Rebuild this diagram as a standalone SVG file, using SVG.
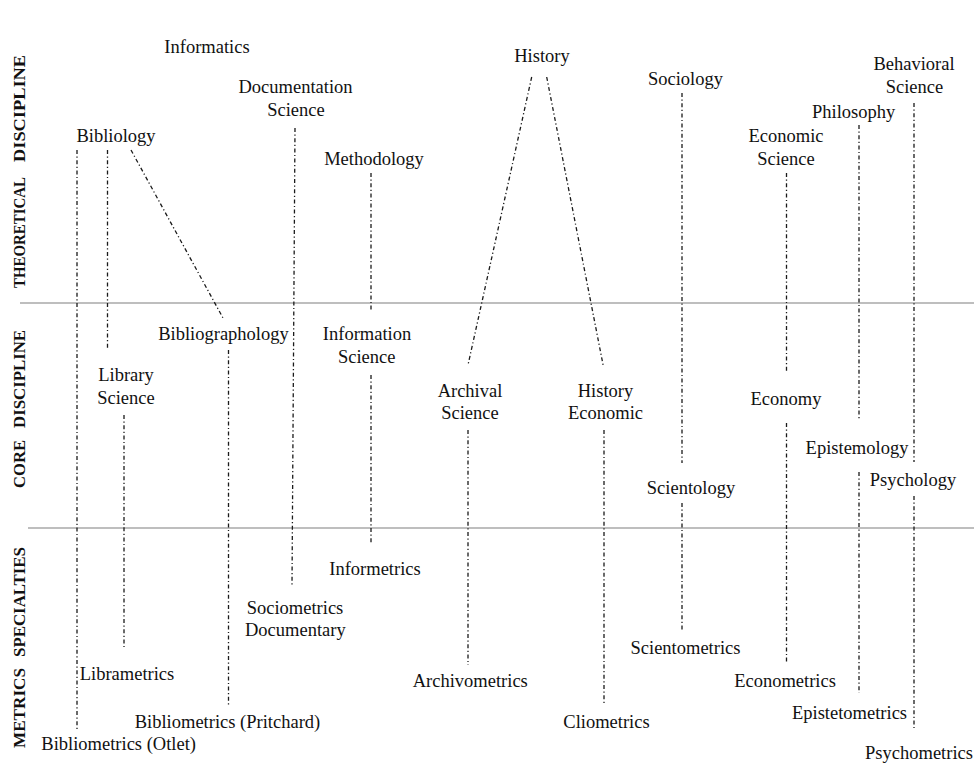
<svg xmlns="http://www.w3.org/2000/svg" width="974" height="774" viewBox="0 0 974 774">
<style>
.lbl{font-family:"Liberation Serif","Times New Roman",serif;font-size:18.5px;fill:#111;text-anchor:middle}
.side{font-family:"Liberation Serif","Times New Roman",serif;font-size:16px;font-weight:bold;fill:#111}
.sep{stroke:#a8a8a8;stroke-width:1.5;fill:none}
.con{stroke:#1a1a1a;stroke-width:1.3;fill:none;stroke-dasharray:4 2.5 1.2 2.5}
</style>
<rect width="974" height="774" fill="#fff"/>
<g id="bands">
<line class="sep" x1="20" y1="303" x2="974" y2="303"/>
<line class="sep" x1="28" y1="528" x2="974" y2="528"/>
<text class="side" transform="translate(25,288) rotate(-90)"><tspan x="0" textLength="111" lengthAdjust="spacingAndGlyphs">THEORETICAL</tspan><tspan x="126" textLength="107" lengthAdjust="spacingAndGlyphs">DISCIPLINE</tspan></text>
<text class="side" transform="translate(25,488) rotate(-90)"><tspan x="0" textLength="48" lengthAdjust="spacingAndGlyphs">CORE</tspan><tspan x="60" textLength="98" lengthAdjust="spacingAndGlyphs">DISCIPLINE</tspan></text>
<text class="side" transform="translate(25,748) rotate(-90)"><tspan x="0" textLength="80" lengthAdjust="spacingAndGlyphs">METRICS</tspan><tspan x="91" textLength="110" lengthAdjust="spacingAndGlyphs">SPECIALTIES</tspan></text>
</g>
<g id="connectors">
<line class="con" x1="77" y1="150" x2="77" y2="730"/>
<line class="con" x1="107.5" y1="150" x2="107.5" y2="350"/>
<line class="con" x1="131" y1="150" x2="223" y2="318"/>
<line class="con" x1="124" y1="415" x2="124" y2="648"/>
<line class="con" x1="228.5" y1="350" x2="228.5" y2="705"/>
<line class="con" x1="295" y1="128" x2="292" y2="585"/>
<line class="con" x1="371" y1="173" x2="371" y2="311"/>
<line class="con" x1="371" y1="375" x2="371" y2="543"/>
<line class="con" x1="531.7" y1="77" x2="468" y2="365"/>
<line class="con" x1="546.7" y1="77" x2="603.5" y2="367"/>
<line class="con" x1="468" y1="430" x2="468" y2="665"/>
<line class="con" x1="604" y1="430" x2="604" y2="705"/>
<line class="con" x1="682" y1="93" x2="682" y2="463"/>
<line class="con" x1="682" y1="503" x2="682" y2="631"/>
<line class="con" x1="786.5" y1="173" x2="786.5" y2="373"/>
<line class="con" x1="786.5" y1="423" x2="786.5" y2="664"/>
<line class="con" x1="859" y1="125" x2="859" y2="420"/>
<line class="con" x1="859" y1="472" x2="859" y2="693"/>
<line class="con" x1="914" y1="103" x2="914" y2="462"/>
<line class="con" x1="914" y1="496" x2="914" y2="730"/>
</g>
<g id="informatics"><text class="lbl" x="207" y="53">Informatics</text></g>
<g id="documentation-science"><text class="lbl" x="295.5" y="93">Documentation</text><text class="lbl" x="296" y="116">Science</text></g>
<g id="bibliology"><text class="lbl" x="116" y="141.5">Bibliology</text></g>
<g id="methodology"><text class="lbl" x="374" y="165">Methodology</text></g>
<g id="history"><text class="lbl" x="542" y="62">History</text></g>
<g id="sociology"><text class="lbl" x="685.5" y="85">Sociology</text></g>
<g id="behavioral-science"><text class="lbl" x="914" y="69.5">Behavioral</text><text class="lbl" x="914.5" y="92.5">Science</text></g>
<g id="philosophy"><text class="lbl" x="853.7" y="117.5">Philosophy</text></g>
<g id="economic-science"><text class="lbl" x="786" y="141.5">Economic</text><text class="lbl" x="786" y="164.5">Science</text></g>
<g id="bibliographology"><text class="lbl" x="223.5" y="340">Bibliographology</text></g>
<g id="information-science"><text class="lbl" x="367" y="340">Information</text><text class="lbl" x="366.7" y="362.5">Science</text></g>
<g id="library-science"><text class="lbl" x="126" y="381">Library</text><text class="lbl" x="126" y="403.5">Science</text></g>
<g id="archival-science"><text class="lbl" x="470" y="397">Archival</text><text class="lbl" x="470" y="419">Science</text></g>
<g id="history-economic"><text class="lbl" x="605.5" y="397">History</text><text class="lbl" x="605.5" y="419">Economic</text></g>
<g id="economy"><text class="lbl" x="786" y="404.5">Economy</text></g>
<g id="epistemology"><text class="lbl" x="857" y="454">Epistemology</text></g>
<g id="scientology"><text class="lbl" x="691" y="493.5">Scientology</text></g>
<g id="psychology"><text class="lbl" x="913" y="486">Psychology</text></g>
<g id="informetrics"><text class="lbl" x="375" y="574.5">Informetrics</text></g>
<g id="sociometrics-documentary"><text class="lbl" x="295" y="614">Sociometrics</text><text class="lbl" x="295.3" y="636">Documentary</text></g>
<g id="scientometrics"><text class="lbl" x="685.5" y="653.5">Scientometrics</text></g>
<g id="librametrics"><text class="lbl" x="127" y="679.5">Librametrics</text></g>
<g id="archivometrics"><text class="lbl" x="470.3" y="687">Archivometrics</text></g>
<g id="econometrics"><text class="lbl" x="785" y="687">Econometrics</text></g>
<g id="epistetometrics"><text class="lbl" x="849.5" y="718.5">Epistetometrics</text></g>
<g id="bibliometrics-pritchard"><text class="lbl" x="227.5" y="727.5">Bibliometrics (Pritchard)</text></g>
<g id="cliometrics"><text class="lbl" x="606.5" y="727.5">Cliometrics</text></g>
<g id="bibliometrics-otlet"><text class="lbl" x="118.7" y="750">Bibliometrics (Otlet)</text></g>
<g id="psychometrics"><text class="lbl" x="919" y="758.5">Psychometrics</text></g>
</svg>
